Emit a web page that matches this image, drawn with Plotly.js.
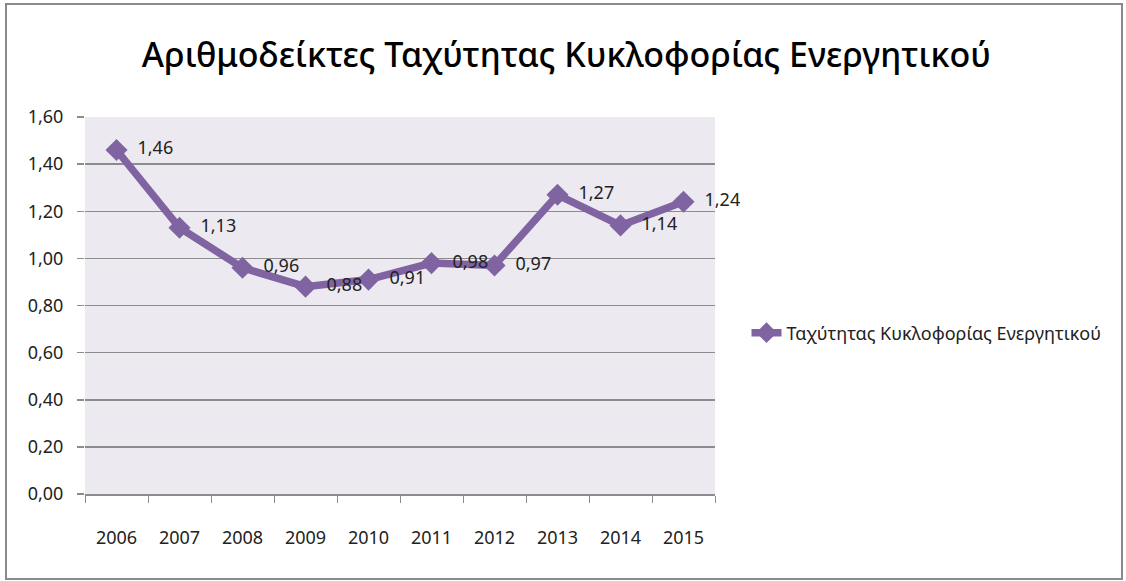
<!DOCTYPE html>
<html>
<head>
<meta charset="utf-8">
<script src="https://cdn.plot.ly/plotly-3.0.1.min.js"></script>
<style>
html, body { margin: 0; padding: 0; background: #fff; }
#frame { position: absolute; left: 5px; top: 3px; width: 1114px; height: 573px; border: 2px solid #8a8a8a; }
#chart { position: absolute; left: 0; top: 0; width: 1126px; height: 581px; }
</style>
</head>
<body>
<div id="chart"></div>
<div id="frame"></div>
<script>
const years = ["2006", "2007", "2008", "2009", "2010", "2011", "2012", "2013", "2014", "2015"];
const values = [1.46, 1.13, 0.96, 0.88, 0.91, 0.98, 0.97, 1.27, 1.14, 1.24];
const seriesName = "Ταχύτητας Κυκλοφορίας Ενεργητικού";
const chartTitle = "Αριθμοδείκτες Ταχύτητας Κυκλοφορίας Ενεργητικού";

const font = "'Noto Sans', sans-serif";

const trace = {
  type: "scatter",
  mode: "lines+markers+text",
  x: years,
  y: values,
  name: seriesName,
  line: { color: "#8064A2", width: 7.5 },
  marker: { symbol: "diamond", size: 17, color: "#8064A2" },
  texttemplate: "  %{y:.2f}",
  textposition: "middle right",
  textfont: { family: font, size: 18, color: "#222" },
  cliponaxis: false,
  hoverinfo: "x+y"
};

const layout = {
  width: 1126,
  height: 581,
  separators: ",.",
  paper_bgcolor: "rgba(0,0,0,0)",
  plot_bgcolor: "#ECEAF0",
  margin: { l: 85, r: 411, t: 117, b: 87 },
  font: { family: font, color: "#222" },
  title: {
    text: chartTitle,
    font: { family: font, size: 34, color: "#000", weight: 500 },
    x: 0.503, xanchor: "center",
    y: 0.905, yanchor: "middle"
  },
  xaxis: {
    type: "category",
    range: [-0.5, 9.5],
    autorange: false,
    showgrid: false,
    showline: true,
    linecolor: "#8c8c8c",
    linewidth: 1.5,
    ticks: "outside",
    tickson: "boundaries",
    ticklen: 7,
    tickcolor: "#8c8c8c",
    tickfont: { family: font, size: 18, color: "#222" },
    ticklabelstandoff: 27,
    zeroline: false,
    fixedrange: true
  },
  yaxis: {
    range: [0, 1.6],
    autorange: false,
    dtick: 0.2,
    tick0: 0,
    tickformat: ".2f",
    showgrid: true,
    gridcolor: "#8c8c8c",
    gridwidth: 1.5,
    showline: false,
    zeroline: false,
    ticks: "outside",
    ticklen: 7,
    tickcolor: "#8c8c8c",
    tickwidth: 1.5,
    tickfont: { family: font, size: 18, color: "#222" },
    ticklabelstandoff: 10,
    fixedrange: true
  },
  showlegend: true,
  legend: {
    x: 1.05, xanchor: "left",
    y: 0.427, yanchor: "middle",
    font: { family: font, size: 18, color: "#222" },
    bgcolor: "rgba(0,0,0,0)"
  }
};

Plotly.newPlot("chart", [trace], layout, { displayModeBar: false, staticPlot: true });
</script>
</body>
</html>
